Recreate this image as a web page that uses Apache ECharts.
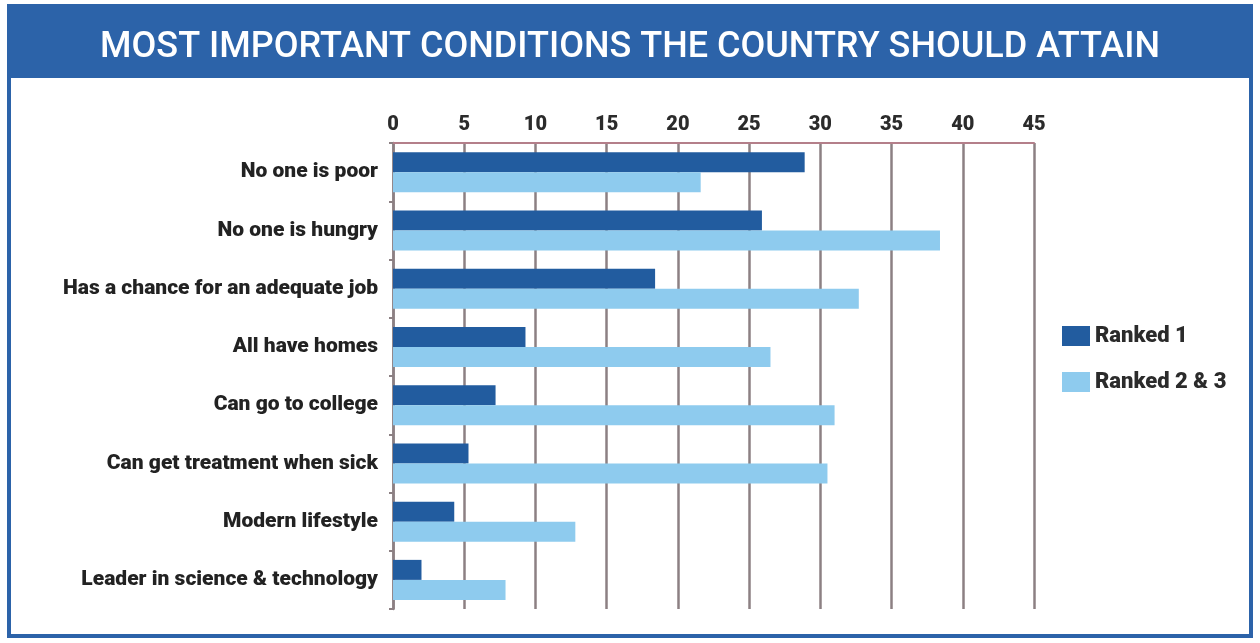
<!DOCTYPE html>
<html>
<head>
<meta charset="utf-8">
<script src="https://cdn.jsdelivr.net/npm/echarts@6/dist/echarts.min.js"></script>
<style>
  html, body { margin: 0; padding: 0; background: #ffffff; }
  #main { width: 1260px; height: 643px; }
</style>
</head>
<body>
<div id="main"></div>
<script>
// data
var categories = [
  'No one is poor',
  'No one is hungry',
  'Has a chance for an adequate job',
  'All have homes',
  'Can go to college',
  'Can get treatment when sick',
  'Modern lifestyle',
  'Leader in science & technology'
];
var ranked1 = [28.9, 25.9, 18.4, 9.3, 7.2, 5.3, 4.3, 2.0];
var ranked23 = [21.6, 38.4, 32.7, 26.5, 31.0, 30.5, 12.8, 7.9];
var xTicks = [0, 5, 10, 15, 20, 25, 30, 35, 40, 45];

var chart = echarts.init(document.getElementById('main'), null, { renderer: 'canvas' });

var fontMain = 'Roboto, "Liberation Sans", sans-serif';

var option = {
  backgroundColor: '#ffffff',
  animation: false,
  graphic: [
    {
      type: 'rect',
      shape: { x: 9, y: 6, width: 1242, height: 630 },
      style: { fill: '#ffffff', stroke: '#2c63a9', lineWidth: 4 },
      z: -10
    },
    {
      type: 'rect',
      shape: { x: 9, y: 6, width: 1242, height: 72 },
      style: { fill: '#2c63a9' },
      z: -9
    }
  ],
  title: {
    text: 'MOST IMPORTANT CONDITIONS THE COUNTRY SHOULD ATTAIN',
    left: 'center',
    top: 25,
    textStyle: {
      color: '#ffffff',
      fontSize: 36,
      fontWeight: 500,
      fontFamily: fontMain
    }
  },
  legend: {
    orient: 'vertical',
    left: 1057,
    top: 320,
    itemWidth: 28,
    itemHeight: 20,
    itemGap: 24,
    icon: 'rect',
    textStyle: {
      color: '#2b2b2b',
      fontSize: 22,
      fontWeight: 900,
      fontFamily: fontMain
    },
    data: ['Ranked 1', 'Ranked 2 & 3']
  },
  grid: {
    left: 393,
    right: 226,
    top: 143,
    bottom: 34,
    containLabel: false
  },
  xAxis: {
    type: 'value',
    position: 'top',
    min: 0,
    max: 45,
    interval: 5,
    axisLine: { show: true, lineStyle: { color: '#b47f8a', width: 2 } },
    axisTick: { show: false },
    axisLabel: {
      color: '#2b2b2b',
      fontSize: 20,
      fontWeight: 900,
      fontFamily: fontMain,
      margin: 8,
      formatter: function (v) { return xTicks.indexOf(v) >= 0 ? String(v) : ''; }
    },
    splitLine: { show: true, lineStyle: { color: '#8c8083', width: 2.5 } }
  },
  yAxis: {
    type: 'category',
    inverse: true,
    data: categories,
    axisLine: { show: true, lineStyle: { color: '#8c8083', width: 2.5 } },
    axisTick: { show: true, length: 4, lineStyle: { color: '#8c8083', width: 2 } },
    axisLabel: {
      color: '#222222',
      fontSize: 21,
      fontWeight: 900,
      fontFamily: fontMain,
      margin: 15
    }
  },
  series: [
    {
      name: 'Ranked 1',
      type: 'bar',
      data: ranked1,
      barWidth: 20,
      barGap: '0%',
      itemStyle: { color: '#225c9f' }
    },
    {
      name: 'Ranked 2 & 3',
      type: 'bar',
      data: ranked23,
      barWidth: 20,
      barGap: '0%',
      itemStyle: { color: '#8ecbee' }
    }
  ]
};

chart.setOption(option);
</script>
</body>
</html>
